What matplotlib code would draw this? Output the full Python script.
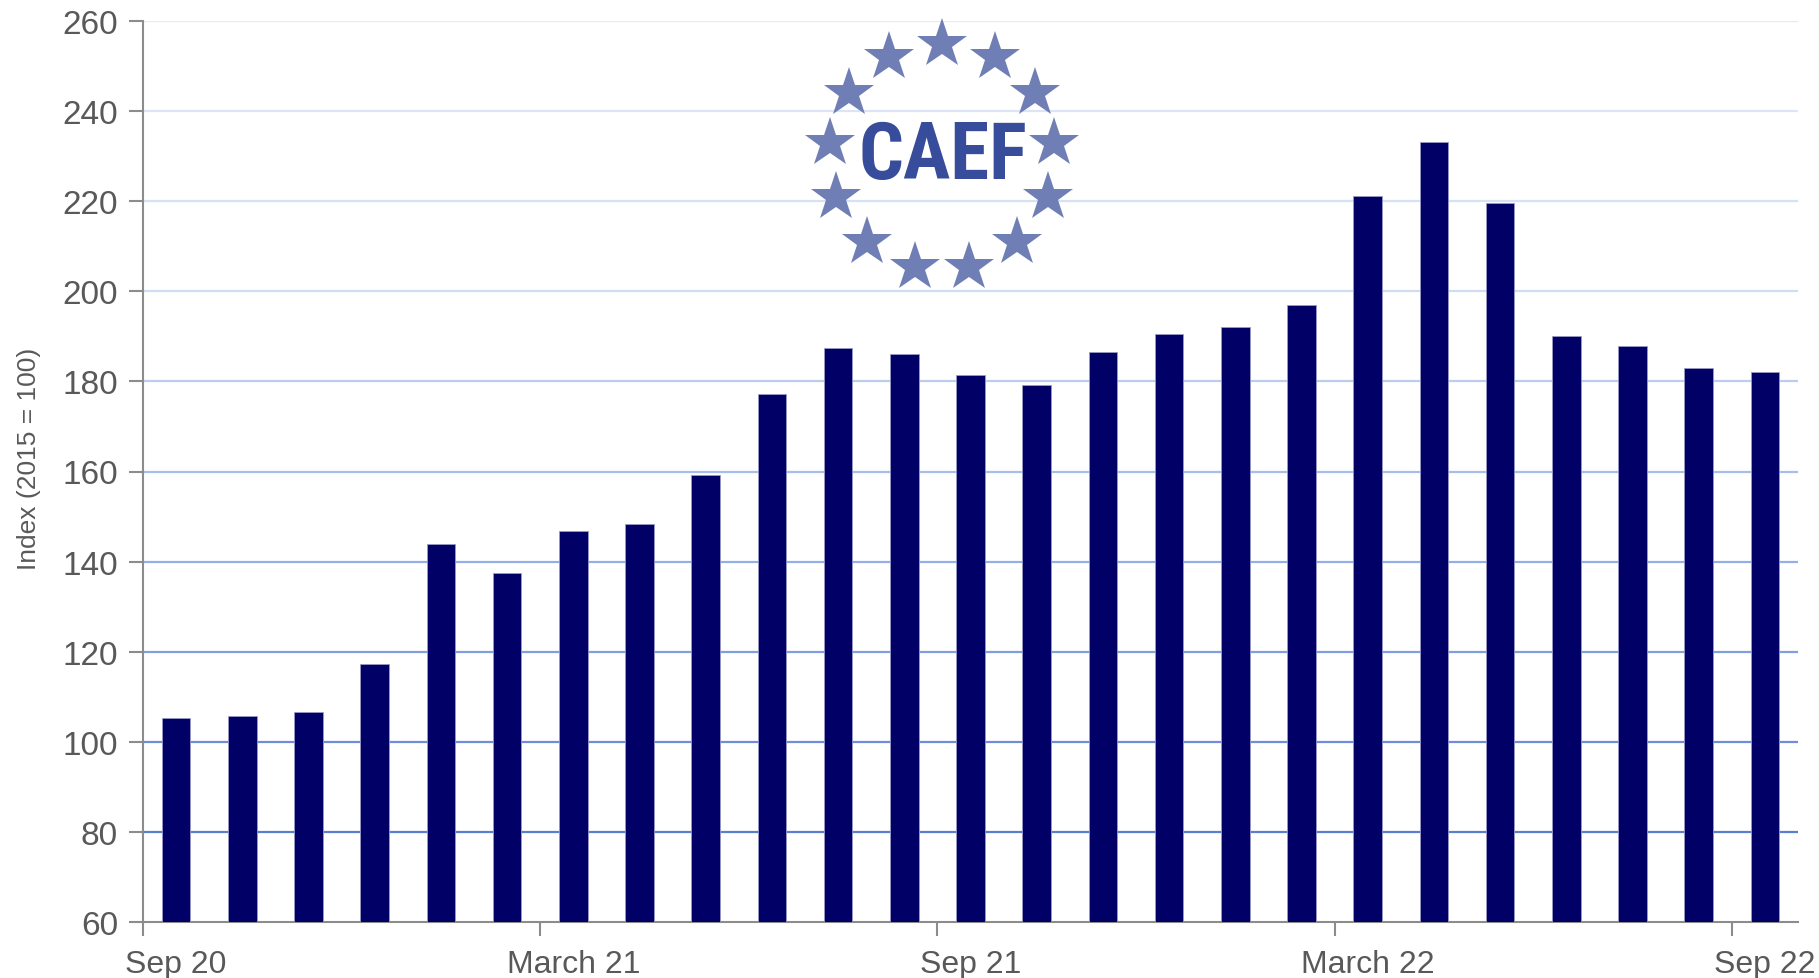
# Aluminium price index, Sep 2020 - Sep 2022 (CAEF)

import numpy as np
import matplotlib.pyplot as plt
from matplotlib.colors import LinearSegmentedColormap

meses = ['Sep 20', 'Oct 20', 'Nov 20', 'Dec 20', 'Jan 21', 'Feb 21', 'March 21',
         'Apr 21', 'May 21', 'Jun 21', 'Jul 21', 'Aug 21', 'Sep 21', 'Oct 21',
         'Nov 21', 'Dec 21', 'Jan 22', 'Feb 22', 'March 22', 'Apr 22', 'May 22',
         'Jun 22', 'Jul 22', 'Aug 22', 'Sep 22']
valores = [105.3, 105.8, 106.6, 117.4, 143.9, 137.4, 146.7, 148.3, 159.3, 177.1,
           187.4, 186.1, 181.4, 179.1, 186.6, 190.5, 192.0, 196.9, 221.1, 233.2,
           219.5, 190.0, 187.8, 183.0, 182.0]
rotulos_x = ['Sep 20', 'March 21', 'Sep 21', 'March 22', 'Sep 22']
rotulos_y = [60, 80, 100, 120, 140, 160, 180, 200, 220, 240, 260]

W, H = 1819, 979
fig = plt.figure(figsize=(W / 100, H / 100), dpi=100)
ax = fig.add_axes([143 / W, 1 - 923.3 / H, (1798 - 143) / W, (923.3 - 21.7) / H])

cinza = '#595959'
eixo = '#8c8c8c'

x = np.arange(len(valores))
ax.bar(x, [v - 60 for v in valores], bottom=60, width=0.43, color='#000066',
       edgecolor='#9a9ac8', linewidth=0.6, zorder=3)

ax.set_xlim(-0.5, len(valores) - 0.5)
ax.set_ylim(60, 260)

# grade com cor ficando mais forte para baixo
cmap = LinearSegmentedColormap.from_list('grade', ['#5b7fcf', '#94aee6', '#cfdcf3', '#e2eaf8'])
for v in rotulos_y[1:]:
    ax.axhline(v, color=cmap((v - 80) / 180), linewidth=1.6, zorder=1)

ax.set_yticks(rotulos_y)
ax.set_yticklabels([str(v) for v in rotulos_y], fontsize=24, color=cinza,
                   family='Liberation Sans')

posicoes = [meses.index(r) for r in rotulos_x]
ax.set_xticks([p - 0.5 for p in posicoes])
ax.set_xticklabels([])
ax.set_xticks(posicoes, minor=True)
ax.set_xticklabels(rotulos_x, minor=True, fontsize=23, color=cinza,
                   family='Liberation Sans')
ax.tick_params(axis='x', which='major', length=10, width=1.5, color=eixo)
ax.tick_params(axis='x', which='minor', length=0, pad=19)
ax.tick_params(axis='y', length=10, width=1.5, color=eixo, pad=8)

for lado in ['top', 'right']:
    ax.spines[lado].set_visible(False)
for lado in ['left', 'bottom']:
    ax.spines[lado].set_color(eixo)
    ax.spines[lado].set_linewidth(1.5)

fig.text(29 / W, 1 - 459 / H, 'Index (2015 = 100)', rotation=90, ha='center',
         va='center', fontsize=19, color=cinza, family='Liberation Sans')

# logo CAEF
cx, cy, r = 942, 158, 113
for i in range(13):
    ang = np.pi / 2 - i * 2 * np.pi / 13
    px = cx + r * np.cos(ang)
    py = cy - r * np.sin(ang)
    fig.lines.append(plt.Line2D([px / W], [1 - py / H], marker='*', markersize=38,
                                color='#6f7fb6', markeredgewidth=0,
                                transform=fig.transFigure, figure=fig))
fig.text(943 / W, 1 - 157 / H, 'CAEF', ha='center', va='center', fontsize=57,
         fontweight='bold', color='#374c9a',
         family=['Roboto Condensed', 'Liberation Sans'])

plt.savefig('out.png')
